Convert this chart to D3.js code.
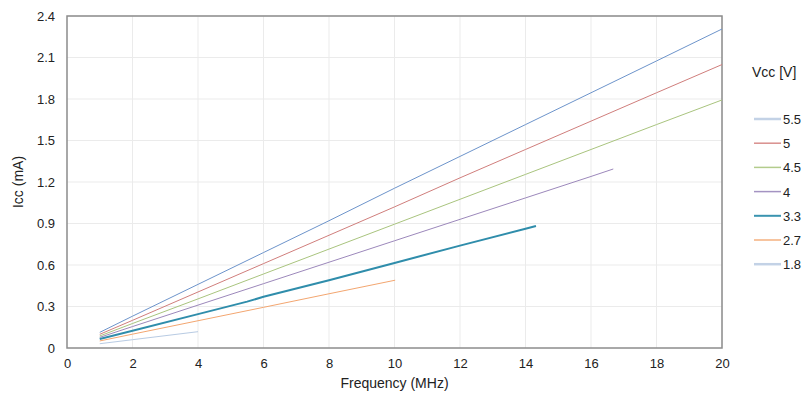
<!DOCTYPE html>
<html><head><meta charset="utf-8">
<script src="https://cdn.jsdelivr.net/npm/d3@7"></script>
<style>
body{margin:0;background:#fff;}
text{font-family:"Liberation Sans",Arial,sans-serif;fill:#222;}
</style></head>
<body><svg id="c" width="807" height="396"></svg>
<script>
const xTicks = [0,2,4,6,8,10,12,14,16,18,20];
const yTicks = [0,0.3,0.6,0.9,1.2,1.5,1.8,2.1,2.4];
const yTickLabels = ["0","0.3","0.6","0.9","1.2","1.5","1.8","2.1","2.4"];
const seriesNames = ["5.5","5","4.5","4","3.3","2.7","1.8"];
const seriesColors = ["#6d94cb","#d07e7c","#a9c47e","#9c88bb","#2f8dab","#f3a670","#b8cbe3"];
const legendColors = ["#c3d2e6","#d98f8d","#b3cc8c","#a493c2","#3a94b0","#f5b07f","#c3d2e6"];
const seriesWidths = [1,1,1,1,2,1,1];
const legendWidths = [2.5,1.5,1.5,1.5,2,1.5,2.5];
const f55 = [1,2,4,6,8,10,12,14,16,18,20];
const v55 = [0.113,0.23,0.46,0.69,0.92,1.155,1.385,1.615,1.845,2.075,2.306];
const f50 = [1,2,4,6,8,10,12,14,16,18,20];
const v50 = [0.099,0.20,0.405,0.61,0.815,1.02,1.23,1.435,1.64,1.845,2.049];
const f45 = [1,2,4,6,8,10,12,14,16,18,20];
const v45 = [0.087,0.177,0.355,0.535,0.715,0.895,1.075,1.255,1.435,1.615,1.793];
const f40 = [1,2,4,6,8,10,12,14,16,16.68];
const v40 = [0.077,0.155,0.31,0.465,0.62,0.775,0.93,1.085,1.24,1.294];
const f33 = [1,2,4,5.5,6,8,10,12,14,14.32];
const v33 = [0.065,0.125,0.245,0.335,0.37,0.49,0.615,0.74,0.862,0.882];
const f27 = [1,2,4,6,8,10.02];
const v27 = [0.051,0.10,0.197,0.294,0.392,0.49];
const f18 = [1,2,4];
const v18 = [0.031,0.06,0.118];
const seriesF = [f55,f50,f45,f40,f33,f27,f18];
const seriesV = [v55,v50,v45,v40,v33,v27,v18];

const svg = d3.select("#c");
const L=67,R=722,T=16,B=348;
const x = d3.scaleLinear().domain([0,20]).range([L,R]);
const y = d3.scaleLinear().domain([0,2.4]).range([B,T]);

svg.append("g").selectAll("line").data(xTicks.slice(1)).join("line")
  .attr("x1",d=>x(d)).attr("x2",d=>x(d)).attr("y1",T).attr("y2",B)
  .attr("stroke","#ebebeb").attr("stroke-width",1);
svg.append("g").selectAll("line").data(yTicks.slice(1)).join("line")
  .attr("x1",L).attr("x2",R).attr("y1",d=>y(d)).attr("y2",d=>y(d))
  .attr("stroke","#ebebeb").attr("stroke-width",1);

svg.append("rect").attr("x",L).attr("y",T).attr("width",R-L).attr("height",B-T)
  .attr("fill","none").attr("stroke","#8c8c8c").attr("stroke-width",1.5);

const xAxis = d3.axisBottom(x).tickValues(xTicks).tickSize(0).tickPadding(11).tickFormat(d3.format("d"));
const gx = svg.append("g").attr("transform",`translate(0,${B})`).call(xAxis);
gx.select(".domain").remove();
gx.selectAll("text").style("font-size","13px").attr("fill","#222");
const yAxis = d3.axisLeft(y).tickValues(yTicks).tickSize(0).tickPadding(12).tickFormat((d,i)=>yTickLabels[i]);
const gy = svg.append("g").attr("transform",`translate(${L},0)`).call(yAxis);
gy.select(".domain").remove();
gy.selectAll("text").style("font-size","13px").attr("fill","#222");

const line = d3.line().x(d=>x(d[0])).y(d=>y(d[1]));
seriesNames.forEach((n,i)=>{
  const pts = seriesF[i].map((f,j)=>[f,seriesV[i][j]]);
  svg.append("path").datum(pts).attr("d",line).attr("fill","none")
    .attr("stroke",seriesColors[i]).attr("stroke-width",seriesWidths[i]);
});

svg.append("text").attr("x",(L+R)/2).attr("y",388).attr("text-anchor","middle")
  .style("font-size","14px").text("Frequency (MHz)");
svg.append("text").attr("transform",`translate(23,${(T+B)/2}) rotate(-90)`).attr("text-anchor","middle")
  .style("font-size","14px").text("Icc (mA)");

svg.append("text").attr("x",752).attr("y",77).style("font-size","14px").text("Vcc [V]");
const lg = svg.append("g").selectAll("g").data(seriesNames).join("g")
  .attr("transform",(d,i)=>`translate(754,${119+i*24.2})`);
lg.append("line").attr("x1",0).attr("x2",27).attr("y1",0).attr("y2",0)
  .attr("stroke",(d,i)=>legendColors[i]).attr("stroke-width",(d,i)=>legendWidths[i]);
lg.append("text").attr("x",29).attr("y",5).style("font-size","13px").text(d=>d);
</script></body></html>
